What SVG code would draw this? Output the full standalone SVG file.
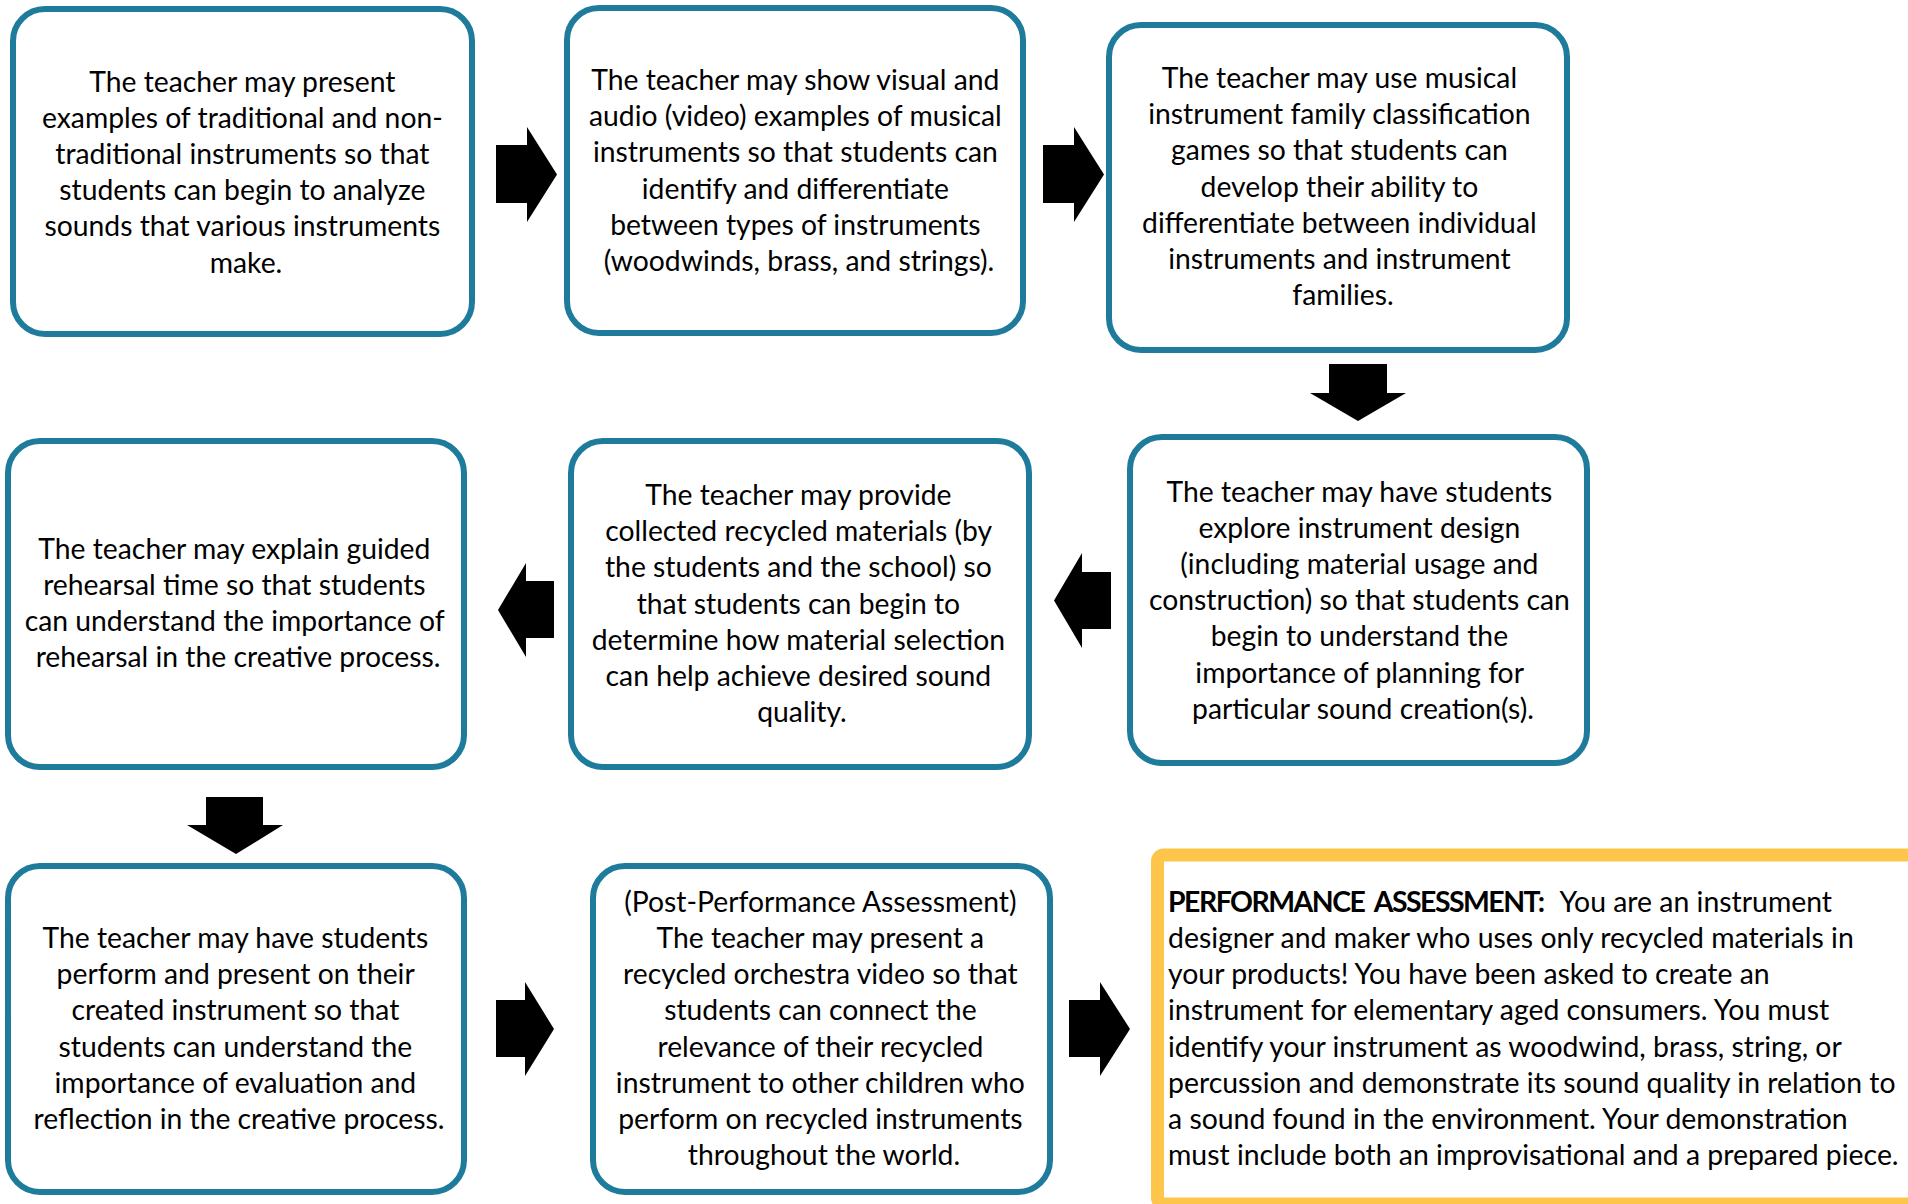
<svg xmlns="http://www.w3.org/2000/svg" width="1908" height="1204" viewBox="0 0 1908 1204">
<style>
  .box { fill: #ffffff; stroke: #1f7b9c; stroke-width: 6; }
  .ybox { fill: #ffffff; stroke: #fec54b; stroke-width: 13; }
  .t { font-family: Lato, "Liberation Sans", sans-serif; font-size: 28.3px; fill: #000000; text-anchor: middle; }
  .tl { font-family: Lato, "Liberation Sans", sans-serif; font-size: 28.4px; fill: #000000; text-anchor: start; }
  .b { font-weight: bold; letter-spacing: -1.5px; word-spacing: 5px; }
  .arrow { fill: #000000; }
</style>
<rect width="1908" height="1204" fill="#ffffff"/>

<g id="connectors">
  <path class="arrow" d="M496,145 H527 V127 L557,174.5 L527,222 V203 H496 Z"/>
  <path class="arrow" d="M1043,145 H1074 V127 L1104,174.5 L1074,222 V203 H1043 Z"/>
  <path class="arrow" d="M1329,364 H1387 V393 H1406 L1358,421 L1310,393 H1329 Z"/>
  <path class="arrow" d="M1111,572 H1082 V553 L1054,600.5 L1082,648 V629 H1111 Z"/>
  <path class="arrow" d="M554,581 H526 V563 L498,610 L526,657 V638 H554 Z"/>
  <path class="arrow" d="M206,797 H263 V825 H283 L236,854 L187,825 H206 Z"/>
  <path class="arrow" d="M496,1000 H525 V982 L554,1029 L525,1076 V1057 H496 Z"/>
  <path class="arrow" d="M1069,1000 H1100 V982 L1130,1029 L1100,1076 V1057 H1069 Z"/>
</g>

<g id="node1">
  <rect class="box" x="13" y="9" width="459" height="325" rx="32"/>
  <text class="t">
    <tspan x="246" y="91.5">The teacher may present</tspan>
    <tspan x="246" y="127.7">examples of traditional and non-</tspan>
    <tspan x="246" y="163.9">traditional instruments so that</tspan>
    <tspan x="246" y="200.1">students can begin to analyze</tspan>
    <tspan x="246" y="236.3">sounds that various instruments</tspan>
    <tspan x="246" y="272.5">make.</tspan>
  </text>
</g>

<g id="node2">
  <rect class="box" x="567" y="8" width="456" height="325" rx="32"/>
  <text class="t">
    <tspan x="799" y="90">The teacher may show visual and</tspan>
    <tspan x="799" y="126.2">audio (video) examples of musical</tspan>
    <tspan x="799" y="162.4">instruments so that students can</tspan>
    <tspan x="799" y="198.6">identify and differentiate</tspan>
    <tspan x="799" y="234.8">between types of instruments</tspan>
    <tspan x="799" y="271">(woodwinds, brass, and strings).</tspan>
  </text>
</g>

<g id="node3">
  <rect class="box" x="1109" y="25" width="458" height="325" rx="32"/>
  <text class="t">
    <tspan x="1343" y="88">The teacher may use musical</tspan>
    <tspan x="1343" y="124.2">instrument family classification</tspan>
    <tspan x="1343" y="160.4">games so that students can</tspan>
    <tspan x="1343" y="196.6">develop their ability to</tspan>
    <tspan x="1343" y="232.8">differentiate between individual</tspan>
    <tspan x="1343" y="269">instruments and instrument</tspan>
    <tspan x="1343" y="305.2">families.</tspan>
  </text>
</g>

<g id="node4">
  <rect class="box" x="1130" y="437" width="457" height="326" rx="32"/>
  <text class="t">
    <tspan x="1363" y="501.5">The teacher may have students</tspan>
    <tspan x="1363" y="537.7">explore instrument design</tspan>
    <tspan x="1363" y="573.9">(including material usage and</tspan>
    <tspan x="1363" y="610.1">construction) so that students can</tspan>
    <tspan x="1363" y="646.3">begin to understand the</tspan>
    <tspan x="1363" y="682.5">importance of planning for</tspan>
    <tspan x="1363" y="718.7">particular sound creation(s).</tspan>
  </text>
</g>

<g id="node5">
  <rect class="box" x="571" y="441" width="458" height="326" rx="32"/>
  <text class="t">
    <tspan x="802" y="505">The teacher may provide</tspan>
    <tspan x="802" y="541.2">collected recycled materials (by</tspan>
    <tspan x="802" y="577.4">the students and the school) so</tspan>
    <tspan x="802" y="613.6">that students can begin to</tspan>
    <tspan x="802" y="649.8">determine how material selection</tspan>
    <tspan x="802" y="686">can help achieve desired sound</tspan>
    <tspan x="802" y="722.2">quality.</tspan>
  </text>
</g>

<g id="node6">
  <rect class="box" x="8" y="441" width="456" height="326" rx="32"/>
  <text class="t">
    <tspan x="238" y="558.5">The teacher may explain guided</tspan>
    <tspan x="238" y="594.7">rehearsal time so that students</tspan>
    <tspan x="238" y="630.9">can understand the importance of</tspan>
    <tspan x="238" y="667.1">rehearsal in the creative process.</tspan>
  </text>
</g>

<g id="node7">
  <rect class="box" x="8" y="866" width="456" height="326" rx="32"/>
  <text class="t">
    <tspan x="239" y="948">The teacher may have students</tspan>
    <tspan x="239" y="984.2">perform and present on their</tspan>
    <tspan x="239" y="1020.4">created instrument so that</tspan>
    <tspan x="239" y="1056.6">students can understand the</tspan>
    <tspan x="239" y="1092.8">importance of evaluation and</tspan>
    <tspan x="239" y="1129">reflection in the creative process.</tspan>
  </text>
</g>

<g id="node8">
  <rect class="box" x="593" y="866" width="457" height="326" rx="32"/>
  <text class="t">
    <tspan x="824" y="911.8">(Post-Performance Assessment)</tspan>
    <tspan x="824" y="948">The teacher may present a</tspan>
    <tspan x="824" y="984.2">recycled orchestra video so that</tspan>
    <tspan x="824" y="1020.4">students can connect the</tspan>
    <tspan x="824" y="1056.6">relevance of their recycled</tspan>
    <tspan x="824" y="1092.8">instrument to other children who</tspan>
    <tspan x="824" y="1129">perform on recycled instruments</tspan>
    <tspan x="824" y="1165.2">throughout the world.</tspan>
  </text>
</g>

<g id="node9">
  <rect class="ybox" x="1157.5" y="855" width="780" height="349" rx="6"/>
  <text class="tl">
    <tspan x="1168" y="911.8"><tspan class="b">PERFORMANCE ASSESSMENT:</tspan><tspan dx="16">You are an instrument</tspan></tspan>
    <tspan x="1168" y="948">designer and maker who uses only recycled materials in</tspan>
    <tspan x="1168" y="984.2">your products! You have been asked to create an</tspan>
    <tspan x="1168" y="1020.4">instrument for elementary aged consumers. You must</tspan>
    <tspan x="1168" y="1056.6">identify your instrument as woodwind, brass, string, or</tspan>
    <tspan x="1168" y="1092.8">percussion and demonstrate its sound quality in relation to</tspan>
    <tspan x="1168" y="1129">a sound found in the environment. Your demonstration</tspan>
    <tspan x="1168" y="1165.2">must include both an improvisational and a prepared piece.</tspan>
  </text>
</g>
</svg>
